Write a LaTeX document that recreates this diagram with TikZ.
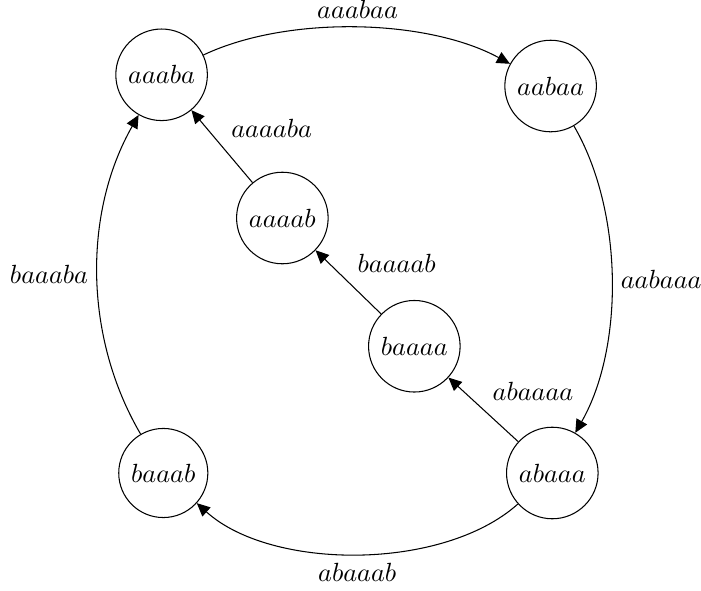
\documentclass[tikz,border=0pt]{standalone}
\usepackage{amsmath, amssymb}
\usepackage{tikz}
\usetikzlibrary{positioning, arrows.meta}

\begin{document}
\begin{tikzpicture}[node distance=2cm, >={Triangle[length=5pt,width=4.6pt]}, vertex/.style={draw, circle}]
\useasboundingbox (0,0) rectangle (9.37,7.89);
\node (aaaba) [vertex] at (2.16,6.89) {$aaaba$};
\node (aabaa) [vertex, right of=aaaba, xshift=3.2cm, yshift=-0.15cm] {$aabaa$};
\node (aaaab) [vertex, below right of=aaaba, xshift=0.2cm, yshift=-0.5cm] {$aaaab$};
\node (baaaa) [vertex, below right of=aaaab, xshift=0.35cm, yshift=-0.3cm] {$baaaa$};
\node (abaaa) [vertex, below right of=baaaa, xshift=0.43cm, yshift=-0.28cm] {$abaaa$};
\node (baaab) [vertex, left of=abaaa, xshift=-3.2cm] {$baaab$};

\draw[->] (aaaba) to[bend left=27, looseness=0.78] node[auto] {$aaabaa$} (aabaa);
\draw[->] (aabaa) to[bend left=30, looseness=0.82] node[auto] {$aabaaa$} (abaaa);
\draw[->] (abaaa) to[bend left=42, looseness=0.8] node[auto] {$abaaab$} (baaab);
\draw[->] (baaab) to[bend left=30, looseness=0.9] node[auto] {$baaaba$} (aaaba);

\draw[->] (abaaa) -- node[auto, swap] {$abaaaa$} (baaaa);
\draw[->] (baaaa) -- node[auto, swap] {$baaaab$} (aaaab);
\draw[->] (aaaab) -- node[auto, swap] {$aaaaba$} (aaaba);
\end{tikzpicture}
\end{document}
